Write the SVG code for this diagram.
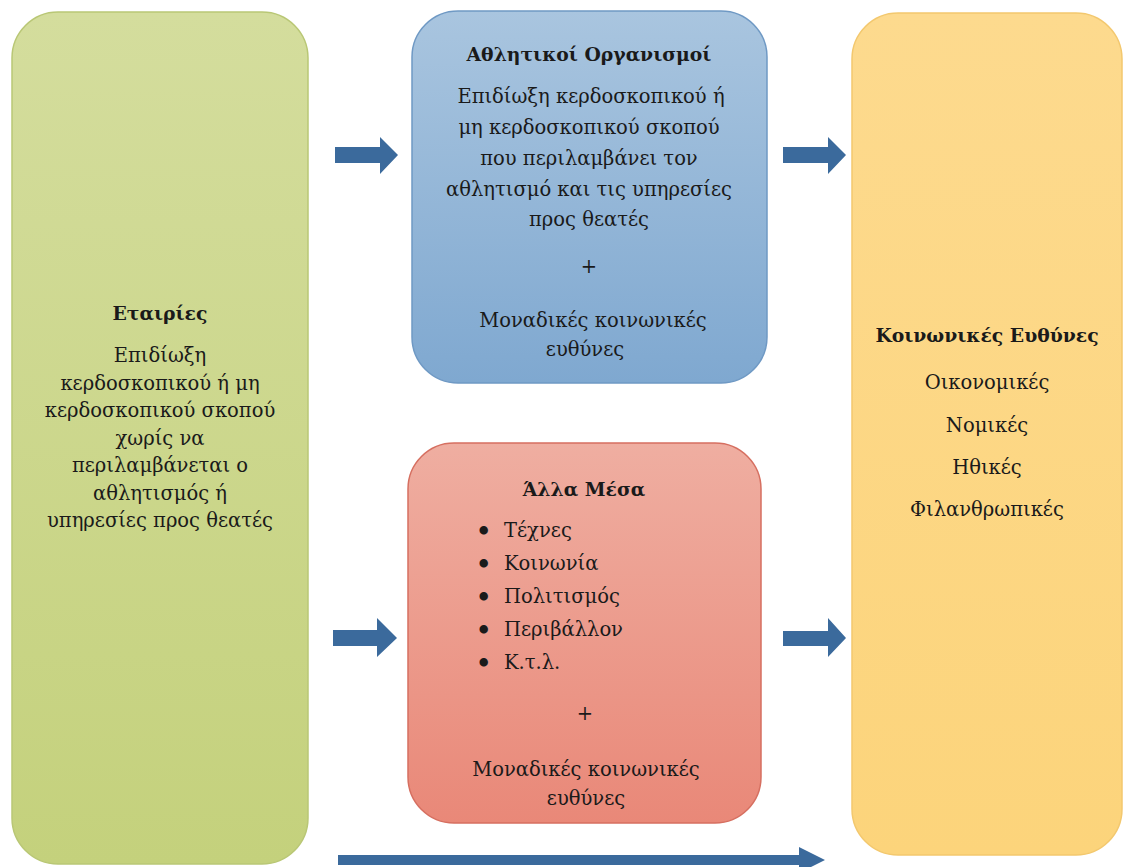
<svg xmlns="http://www.w3.org/2000/svg" width="1124" height="867" viewBox="0 0 1124 867">
<style>
text{font-family:"DejaVu Serif","Liberation Serif",serif;font-size:19.5px;fill:#1a1a1a;text-anchor:middle}
.b{font-weight:bold;font-size:18.8px}
.l{text-anchor:start}
.bul{text-anchor:start;font-size:24px;font-weight:bold}
.arrow{fill:#3b6a9c}
</style>
<defs>
<linearGradient id="gG" x1="0" y1="0" x2="0" y2="1"><stop offset="0" stop-color="#d4dd9d"/><stop offset="1" stop-color="#c4d17c"/></linearGradient>
<linearGradient id="gB" x1="0" y1="0" x2="0" y2="1"><stop offset="0" stop-color="#a9c5df"/><stop offset="1" stop-color="#7fa8d0"/></linearGradient>
<linearGradient id="gR" x1="0" y1="0" x2="0" y2="1"><stop offset="0" stop-color="#efaea1"/><stop offset="1" stop-color="#e98878"/></linearGradient>
<linearGradient id="gY" x1="0" y1="0" x2="0" y2="1"><stop offset="0" stop-color="#fdda8e"/><stop offset="1" stop-color="#fcd47b"/></linearGradient>
</defs>
<rect width="1124" height="867" fill="#ffffff"/>
<g id="connectors">
<path class="arrow" d="M335,147 H380 V137 L398,155 L380,174 V163 H335 Z"/>
<path class="arrow" d="M783,147 H828 V137 L846,155 L828,174 V163 H783 Z"/>
<path class="arrow" d="M333,630 H377 V618 L397,638 L377,657 V646 H333 Z"/>
<path class="arrow" d="M783,631 H828 V618 L846,638 L828,657 V646 H783 Z"/>
<path class="arrow" d="M338,855 H799 V847 L825,860 L799,873 V865 H338 Z"/>
</g>
<g id="etairies">
<rect x="12" y="12" width="296" height="852" rx="46" fill="url(#gG)" stroke="#b9c775" stroke-width="1.5"/>
<text class="b" x="160" y="320">Εταιρίες</text>
<text x="160" y="362">Επιδίωξη</text>
<text x="160" y="390">κερδοσκοπικού ή μη</text>
<text x="160" y="417">κερδοσκοπικού σκοπού</text>
<text x="160" y="445">χωρίς να</text>
<text x="160" y="472">περιλαμβάνεται ο</text>
<text x="160" y="500">αθλητισμός ή</text>
<text x="160" y="527">υπηρεσίες προς θεατές</text>
</g>
<g id="athlitikoi">
<rect x="412" y="11" width="355" height="372" rx="46" fill="url(#gB)" stroke="#6f99c4" stroke-width="1.5"/>
<text class="b" x="589" y="61">Αθλητικοί Οργανισμοί</text>
<text x="591" y="103">Επιδίωξη κερδοσκοπικού ή</text>
<text x="589" y="134">μη κερδοσκοπικού σκοπού</text>
<text x="589" y="165">που περιλαμβάνει τον</text>
<text x="589" y="196">αθλητισμό και τις υπηρεσίες</text>
<text x="589" y="226">προς θεατές</text>
<text x="589" y="273">+</text>
<text x="593" y="327">Μοναδικές κοινωνικές</text>
<text x="585" y="356">ευθύνες</text>
</g>
<g id="alla-mesa">
<rect x="408" y="443" width="353" height="380" rx="46" fill="url(#gR)" stroke="#d66f60" stroke-width="1.5"/>
<text class="b" x="584" y="496">Άλλα Μέσα</text>
<text class="bul" x="476" y="539">•</text><text class="l" x="504" y="537">Τέχνες</text>
<text class="bul" x="476" y="572">•</text><text class="l" x="504" y="570">Κοινωνία</text>
<text class="bul" x="476" y="605">•</text><text class="l" x="504" y="603">Πολιτισμός</text>
<text class="bul" x="476" y="638">•</text><text class="l" x="504" y="636">Περιβάλλον</text>
<text class="bul" x="476" y="671">•</text><text class="l" x="504" y="669">Κ.τ.λ.</text>
<text x="585" y="720">+</text>
<text x="586" y="776">Μοναδικές κοινωνικές</text>
<text x="586" y="805">ευθύνες</text>
</g>
<g id="koinonikes-efthynes">
<rect x="852" y="13" width="270" height="842" rx="46" fill="url(#gY)" stroke="#f3c86e" stroke-width="1.5"/>
<text class="b" x="987" y="342">Κοινωνικές Ευθύνες</text>
<text x="987" y="389">Οικονομικές</text>
<text x="987" y="432">Νομικές</text>
<text x="987" y="474">Ηθικές</text>
<text x="987" y="516">Φιλανθρωπικές</text>
</g>
</svg>
